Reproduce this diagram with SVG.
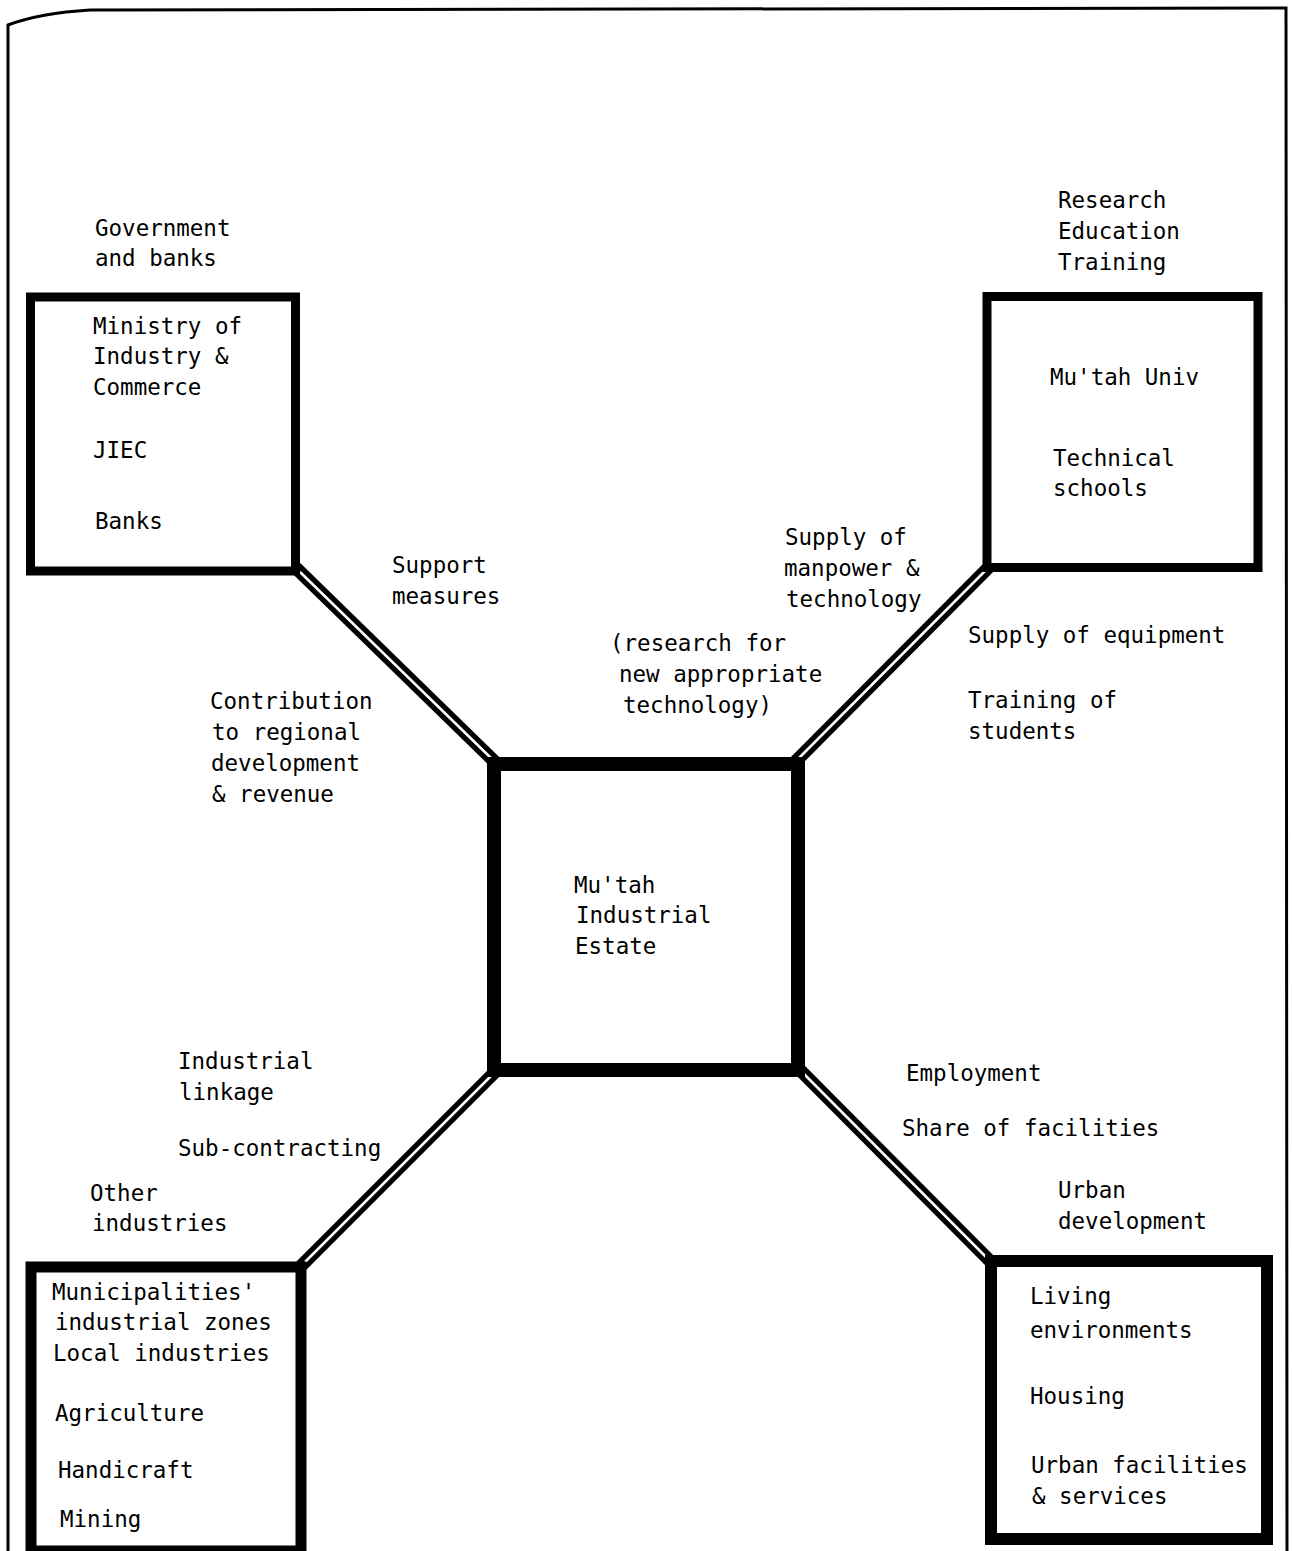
<svg xmlns="http://www.w3.org/2000/svg" width="1292" height="1551" viewBox="0 0 1292 1551">
<style>
text{font-family:"DejaVu Sans Mono","Liberation Mono",monospace;font-size:22.5px;fill:#000}
.box{fill:#fff;stroke:#000}
.co{stroke:#000;stroke-width:13;stroke-linecap:butt;fill:none}
.ci{stroke:#fff;stroke-width:2.5;fill:none}
</style>
<rect width="1292" height="1551" fill="#fff"/>
<path d="M8,1551 L8,25 Q40,13 90,10 L1286,8 L1287,1551" fill="none" stroke="#000" stroke-width="3"/>
<g id="connectors">
<line class="co" x1="296" y1="568" x2="497" y2="764"/>
<line class="co" x1="991" y1="565" x2="795" y2="762"/>
<line class="co" x1="496" y1="1071" x2="301" y2="1266"/>
<line class="co" x1="800" y1="1070" x2="991" y2="1262"/>
<line class="ci" x1="300" y1="572" x2="493" y2="760"/>
<line class="ci" x1="987" y1="569" x2="799" y2="758"/>
<line class="ci" x1="492" y1="1075" x2="305" y2="1262"/>
<line class="ci" x1="804" y1="1074" x2="987" y2="1258"/>
</g>
<g id="gov">
<rect class="box" x="30.5" y="297" width="265" height="274" stroke-width="9"/>
<text x="93" y="334">Ministry of</text>
<text x="93" y="364">Industry &amp;</text>
<text x="93" y="395">Commerce</text>
<text x="93" y="458">JIEC</text>
<text x="95" y="529">Banks</text>
</g>
<g id="univ">
<rect class="box" x="987" y="296.5" width="271" height="271" stroke-width="9"/>
<text x="1050" y="385">Mu'tah Univ</text>
<text x="1053" y="466">Technical</text>
<text x="1053" y="496">schools</text>
</g>
<g id="estate">
<rect class="box" x="494" y="764" width="304" height="306" stroke-width="14"/>
<text x="574" y="893">Mu'tah</text>
<text x="576" y="923">Industrial</text>
<text x="575" y="954">Estate</text>
</g>
<g id="local">
<rect class="box" x="31" y="1267" width="270" height="284" stroke-width="11"/>
<text x="52" y="1300">Municipalities'</text>
<text x="55" y="1330">industrial zones</text>
<text x="53" y="1361">Local industries</text>
<text x="55" y="1421">Agriculture</text>
<text x="58" y="1478">Handicraft</text>
<text x="60" y="1527">Mining</text>
</g>
<g id="urban">
<rect class="box" x="991" y="1261" width="276" height="278" stroke-width="12"/>
<text x="1030" y="1304">Living</text>
<text x="1030" y="1338">environments</text>
<text x="1030" y="1404">Housing</text>
<text x="1031" y="1473">Urban facilities</text>
<text x="1032" y="1504">&amp; services</text>
</g>
<g id="labels">
<text x="95" y="236">Government</text>
<text x="95" y="266">and banks</text>
<text x="1058" y="208">Research</text>
<text x="1058" y="239">Education</text>
<text x="1058" y="270">Training</text>
<text x="392" y="573">Support</text>
<text x="392" y="604">measures</text>
<text x="210" y="709">Contribution</text>
<text x="212" y="740">to regional</text>
<text x="211" y="771">development</text>
<text x="212" y="802">&amp; revenue</text>
<text x="610" y="651">(research for</text>
<text x="619" y="682">new appropriate</text>
<text x="623" y="713">technology)</text>
<text x="785" y="545">Supply of</text>
<text x="784" y="576">manpower &amp;</text>
<text x="786" y="607">technology</text>
<text x="968" y="643">Supply of equipment</text>
<text x="968" y="708">Training of</text>
<text x="968" y="739">students</text>
<text x="178" y="1069">Industrial</text>
<text x="179" y="1100">linkage</text>
<text x="178" y="1156">Sub-contracting</text>
<text x="90" y="1201">Other</text>
<text x="92" y="1231">industries</text>
<text x="906" y="1081">Employment</text>
<text x="902" y="1136">Share of facilities</text>
<text x="1058" y="1198">Urban</text>
<text x="1058" y="1229">development</text>
</g>
</svg>
